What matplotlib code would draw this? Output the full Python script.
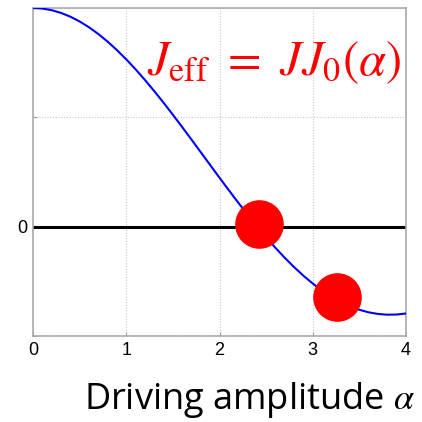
import matplotlib.pyplot as plt

# tabulated effective coupling J_eff / J versus driving amplitude
alpha = [0.0, 0.1, 0.2, 0.3, 0.4, 0.5, 0.6, 0.7, 0.8, 0.9,
         1.0, 1.1, 1.2, 1.3, 1.4, 1.5, 1.6, 1.7, 1.8, 1.9,
         2.0, 2.1, 2.2, 2.3, 2.4, 2.5, 2.6, 2.7, 2.8, 2.9,
         3.0, 3.1, 3.2, 3.3, 3.4, 3.5, 3.6, 3.7, 3.8, 3.9, 4.0]
j_eff = [1.0, 0.9975, 0.9900, 0.9776, 0.9604, 0.9385, 0.9120, 0.8812, 0.8463, 0.8075,
         0.7652, 0.7196, 0.6711, 0.6201, 0.5669, 0.5118, 0.4554, 0.3980, 0.3400, 0.2818,
         0.2239, 0.1666, 0.1104, 0.0555, 0.0025, -0.0484, -0.0968, -0.1424, -0.1850, -0.2243,
         -0.2601, -0.2921, -0.3202, -0.3443, -0.3643, -0.3801, -0.3918, -0.3992, -0.4026, -0.4018, -0.3971]

# highlighted operating points
dot_x = [2.42, 3.26]
dot_y = [0.01, -0.32]

xticks = [0, 1, 2, 3, 4]
yticks = [-0.5, 0, 0.5, 1]
ytick_labels = ['', '0', '', '']

plt.rcParams['mathtext.fontset'] = 'stix'

fig = plt.figure(figsize=(4.22, 4.22), dpi=100)
ax = fig.add_axes([33/422, 1 - 336/422, (406-33)/422, (336-8)/422])

ax.plot(alpha, j_eff, color='#0000ff', lw=1.5, zorder=3)
ax.axhline(0, color='black', lw=2.2, zorder=2)
ax.plot(dot_x, dot_y, 'o', color='#ff0000', ms=35, mec='none', zorder=4, clip_on=False)

ax.set_xlim(0, 4)
ax.set_ylim(-0.5, 1)
ax.set_xticks(xticks)
ax.set_xticklabels([str(t) for t in xticks])
ax.set_yticks(yticks)
ax.set_yticklabels(ytick_labels)
ax.grid(True, color='#c8c8c8', ls=(0, (1, 1.5)), lw=0.8)
ax.tick_params(direction='in', length=3, color='#999999', labelsize=13, pad=4)
for lab in ax.get_xticklabels() + ax.get_yticklabels():
    lab.set_family('Liberation Sans')
for s in ax.spines.values():
    s.set_color('#aaaaaa')
    s.set_linewidth(1.2)

ax.text(0.985, 0.835, r'$J_{\mathrm{eff}}\ =\ JJ_0(\alpha)$', transform=ax.transAxes,
        color='#ff0000', fontsize=35, ha='right', va='center')

fig.text(415/422, 1 - 409/422, r'Driving amplitude $\alpha$', family='Open Sans',
         fontsize=26, ha='right', va='baseline')

fig.savefig('out.png', dpi=100)
